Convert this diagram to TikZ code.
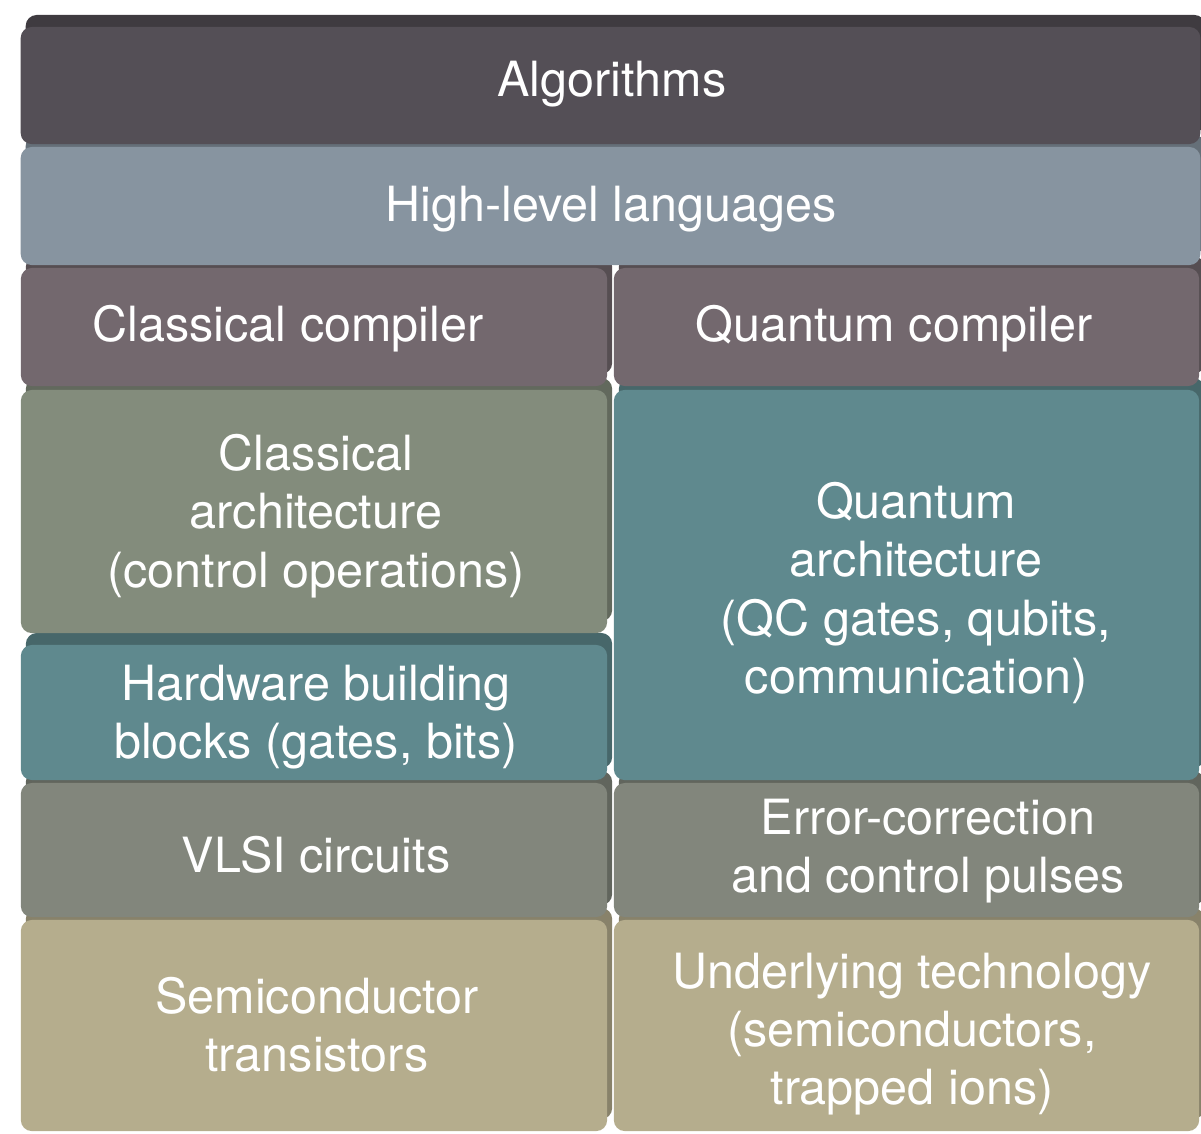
\documentclass[tikz,border=0pt]{standalone}
\usepackage{fontspec}
\setmainfont{TeX Gyre Heros}
\usetikzlibrary{shadows}
\definecolor{algcol}{HTML}{544F56}
\definecolor{langcol}{HTML}{8794A0}
\definecolor{compcol}{HTML}{73686E}
\definecolor{archcol}{HTML}{838C7C}
\definecolor{tealcol}{HTML}{5F898E}
\definecolor{vlsicol}{HTML}{82867C}
\definecolor{techcol}{HTML}{B5AD8D}

\begin{document}
\begin{tikzpicture}[x=0.01cm, y=-0.01cm,
  slab/.style={rectangle, rounded corners=0.11cm, inner sep=0pt, outer sep=0pt, fill=#1,
    general shadow={fill=#1!75!black, shadow xshift=0.05cm, shadow yshift=0.12cm}},
  lbl/.style={text=white, align=center, font=\fontsize{13.8}{16.6}\selectfont}
]
  \useasboundingbox (0,0) rectangle (1201,1133);
  \clip (0,0) rectangle (1201,1133);

  \node[slab=techcol, minimum width=5.86cm, minimum height=2.11cm] (semi) at (314,1025.5) {};
  \node[slab=techcol, minimum width=5.85cm, minimum height=2.11cm] (utech) at (906.5,1025.5) {};
  \node[slab=vlsicol, minimum width=5.86cm, minimum height=1.34cm] (vlsi) at (314,850) {};
  \node[slab=vlsicol, minimum width=5.85cm, minimum height=1.34cm] (ecc) at (906.5,850) {};
  \node[slab=tealcol, minimum width=5.86cm, minimum height=1.35cm] (hwb) at (314,712.5) {};
  \node[slab=tealcol, minimum width=5.85cm, minimum height=3.90cm] (qarch) at (906.5,585) {};
  \node[slab=archcol, minimum width=5.86cm, minimum height=2.43cm] (carch) at (314,511.5) {};
  \node[slab=compcol, minimum width=5.86cm, minimum height=1.18cm] (ccomp) at (314,327) {};
  \node[slab=compcol, minimum width=5.85cm, minimum height=1.18cm] (qcomp) at (906.5,327) {};
  \node[slab=langcol, minimum width=11.79cm, minimum height=1.18cm] (lang) at (610.5,206) {};
  \node[slab=algcol, minimum width=11.79cm, minimum height=1.17cm] (alg) at (610.5,85.5) {};

  \node[lbl] (alglbl) at (612,84) {Algorithms};
  \node[lbl] (langlbl) at (611,209) {High-level languages};
  \node[lbl] (ccomplbl) at (288,329) {Classical compiler};
  \node[lbl] (qcomplbl) at (894,329) {Quantum compiler};
  \node[lbl] (carchlbl) at (316,516) {Classical\\architecture\\(control operations)};
  \node[lbl] (hwblbl) at (316,717) {Hardware building\\blocks (gates, bits)};
  \node[lbl] (qarchlbl) at (916,593) {Quantum\\architecture\\(QC gates, qubits,\\communication)};
  \node[lbl] (vlsilbl) at (316,855) {VLSI circuits};
  \node[lbl] (ecclbl) at (928,851) {Error-correction\\and control pulses};
  \node[lbl] (semilbl) at (317,1025) {Semiconductor\\transistors};
  \node[lbl] (utechlbl) at (912,1034) {Underlying technology\\(semiconductors,\\trapped ions)};
\end{tikzpicture}
\end{document}
